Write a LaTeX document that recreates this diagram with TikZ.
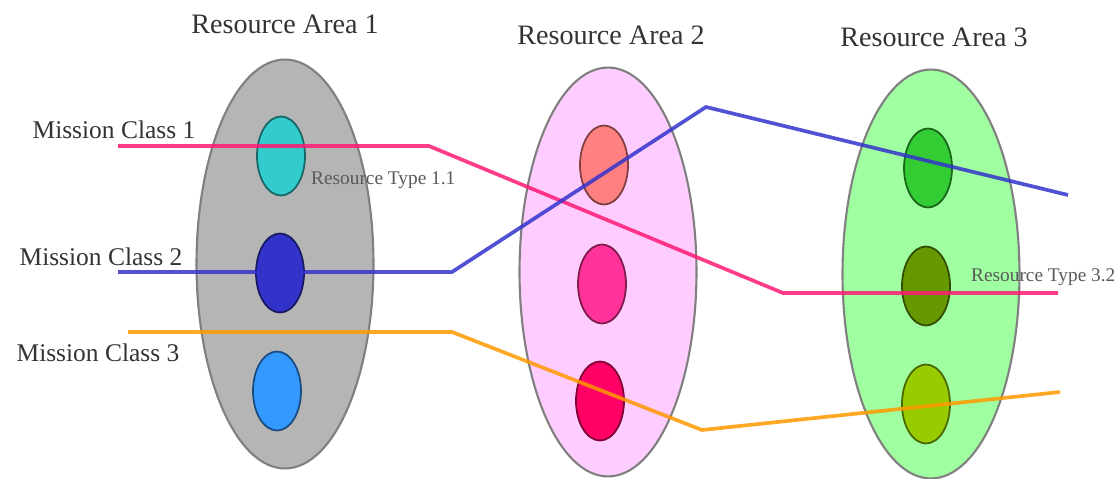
\documentclass[tikz,border=0pt]{standalone}
\usepackage{fontspec}
\setmainfont{Liberation Serif}
\usetikzlibrary{shapes.geometric}
\definecolor{areaA}{HTML}{B5B5B5}
\definecolor{areaB}{HTML}{FFCCFF}
\definecolor{areaC}{HTML}{A0FFA0}
\definecolor{rtA}{HTML}{33CCCC}
\definecolor{rtB}{HTML}{3333CC}
\definecolor{rtC}{HTML}{3399FF}
\definecolor{rtD}{HTML}{FF8080}
\definecolor{rtE}{HTML}{FF3399}
\definecolor{rtF}{HTML}{FF0066}
\definecolor{rtG}{HTML}{33CC33}
\definecolor{rtH}{HTML}{669900}
\definecolor{rtI}{HTML}{99CC00}
\definecolor{mcA}{HTML}{FF1A75}
\definecolor{mcB}{HTML}{3333CC}
\definecolor{mcC}{HTML}{FF9900}
\tikzset{
  area/.style={ellipse, draw=gray, line width=1.2pt, inner sep=0pt, minimum width=3.54cm, minimum height=8.18cm},
  rtype/.style={ellipse, line width=1pt, inner sep=0pt, minimum width=0.96cm, minimum height=1.58cm},
  mission/.style={line width=2.1pt, opacity=0.85, line join=miter},
  title/.style={font=\fontsize{16}{18}\selectfont, text=black!80},
  mlabel/.style={font=\fontsize{14.5}{16}\selectfont, text=black!80},
  tlabel/.style={font=\fontsize{11}{12}\selectfont, text=black!65, anchor=west},
}
\begin{document}
\begin{tikzpicture}[x=0.02cm, y=-0.02cm]
\useasboundingbox (0,0) rectangle (1116,479);
% resource areas
\node[area, fill=areaA] (A1) at (285,264) {};
\node[area, fill=areaB] (A2) at (608,272) {};
\node[area, fill=areaC] (A3) at (931,274) {};
% resource types
\node[rtype, fill=rtA, draw=rtA!50!black] (t11) at (281,156) {};
\node[rtype, fill=rtB, draw=rtB!50!black] (t12) at (280,273) {};
\node[rtype, fill=rtC, draw=rtC!50!black] (t13) at (277,391) {};
\node[rtype, fill=rtD, draw=rtD!50!black] (t21) at (604,165) {};
\node[rtype, fill=rtE, draw=rtE!50!black] (t22) at (602,284) {};
\node[rtype, fill=rtF, draw=rtF!50!black] (t23) at (600,401) {};
\node[rtype, fill=rtG, draw=rtG!50!black] (t31) at (928,168) {};
\node[rtype, fill=rtH, draw=rtH!50!black] (t32) at (926,286) {};
\node[rtype, fill=rtI, draw=rtI!50!black] (t33) at (926,404) {};
% titles
\node[title] (ta1) at (285,24) {Resource Area 1};
\node[title] (ta2) at (611,35) {Resource Area 2};
\node[title] (ta3) at (934,37) {Resource Area 3};
% mission labels
\node[mlabel] (m1) at (114,130) {Mission Class 1};
\node[mlabel] (m2) at (101,257) {Mission Class 2};
\node[mlabel] (m3) at (98,353) {Mission Class 3};
% mission paths
\coordinate (p1a) at (118,146);
\coordinate (p1b) at (429,146);
\coordinate (p1c) at (783,293);
\coordinate (p1d) at (1058,293);
\coordinate (p2a) at (118,272);
\coordinate (p2b) at (452,272);
\coordinate (p2c) at (706,107);
\coordinate (p2d) at (1068,195);
\coordinate (p3a) at (128,332);
\coordinate (p3b) at (452,332);
\coordinate (p3c) at (702,430);
\coordinate (p3d) at (1060,392);
\draw[mission, draw=mcA] (p1a) -- (p1b) -- (p1c) -- (p1d);
\draw[mission, draw=mcB] (p2a) -- (p2b) -- (p2c) -- (p2d);
\draw[mission, draw=mcC] (p3a) -- (p3b) -- (p3c) -- (p3d);
% type labels
\node[tlabel] (l11) at (305,180) {Resource Type 1.1};
\node[tlabel] (l32) at (965,277) {Resource Type 3.2};
\end{tikzpicture}
\end{document}
